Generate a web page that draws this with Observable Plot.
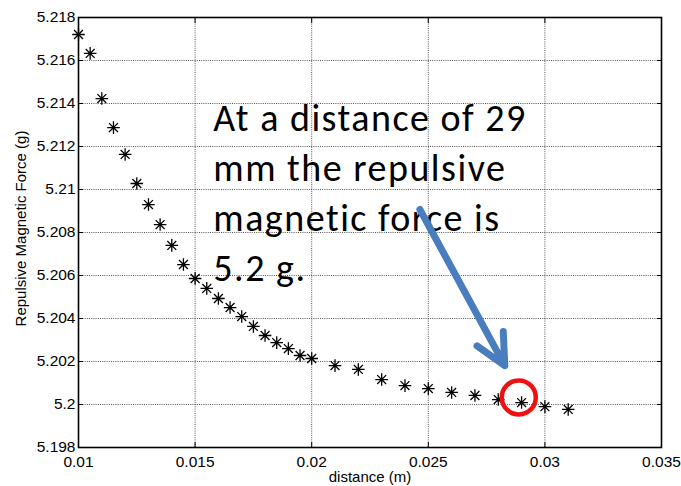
<!DOCTYPE html>
<html>
<head>
<meta charset="utf-8">
<script src="https://cdn.jsdelivr.net/npm/d3@7"></script>
<script src="https://cdn.jsdelivr.net/npm/@observablehq/plot@0.6"></script>
<style>
  html, body { margin: 0; padding: 0; background: #fff; }
  svg { display: block; }
</style>
</head>
<body>
<div id="chart"></div>
<script>
// ---- data ----
const distance = [0.010, 0.0105, 0.011, 0.0115, 0.012, 0.0125, 0.013, 0.0135, 0.014, 0.0145,
  0.015, 0.0155, 0.016, 0.0165, 0.017, 0.0175, 0.018, 0.0185, 0.019, 0.0195,
  0.020, 0.021, 0.022, 0.023, 0.024, 0.025, 0.026, 0.027, 0.028, 0.029, 0.030, 0.031];
const force = [5.21721, 5.21633, 5.21423, 5.21288, 5.21163, 5.21028, 5.2093, 5.20837, 5.2074, 5.20651,
  5.20586, 5.2054, 5.20493, 5.20451, 5.20409, 5.20363, 5.20321, 5.20288, 5.2026, 5.20228,
  5.20214, 5.20181, 5.20163, 5.20116, 5.20088, 5.20074, 5.20056, 5.20042, 5.20023, 5.20009, 5.1999, 5.19977];
const xTicks = [0.01, 0.015, 0.02, 0.025, 0.03, 0.035];
const yTicks = [5.198, 5.2, 5.202, 5.204, 5.206, 5.208, 5.21, 5.212, 5.214, 5.216, 5.218];
const xLabel = "distance (m)";
const yLabel = "Repulsive Magnetic Force (g)";
const noteLines = ["At a distance of 29", "mm the repulsive", "magnetic force is", "5.2 g."];
const noteAt = {x: 0.01578, y: 5.21439};
const arrowFrom = {x: 0.02464, y: 5.20907};
const arrowTo = {x: 0.02828, y: 5.20181};
const highlight = {x: 0.02888, y: 5.20033};

const points = distance.map((d, i) => ({d, f: force[i]}));

// MATLAB-style 8-armed asterisk
const asterisk = {
  draw(context, size) {
    const r = Math.sqrt(size / Math.PI);
    const k = r * Math.SQRT1_2;
    context.moveTo(-r, 0); context.lineTo(r, 0);
    context.moveTo(0, -r); context.lineTo(0, r);
    context.moveTo(-k, -k); context.lineTo(k, k);
    context.moveTo(-k, k); context.lineTo(k, -k);
  }
};

const tickFont = {fontSize: 15.5, fontFamily: "'Liberation Sans', Arial, sans-serif"};
const fmt = d => String(+d.toFixed(4));
const blank = () => "";

const chart = Plot.plot({
  width: 681,
  height: 486,
  marginLeft: 78,
  marginRight: 20,
  marginTop: 17,
  marginBottom: 39,
  style: {background: "#fff", color: "#000", fontFamily: "'Liberation Sans', Arial, sans-serif"},
  x: {domain: [0.01, 0.035]},
  y: {domain: [5.198, 5.218]},
  marks: [
    Plot.gridX(xTicks, {stroke: "#000", strokeOpacity: 0.75, strokeWidth: 0.9, strokeDasharray: "1,1.2"}),
    Plot.gridY(yTicks, {stroke: "#000", strokeOpacity: 0.75, strokeWidth: 0.9, strokeDasharray: "1,1.2"}),
    Plot.axisX(xTicks, {anchor: "bottom", tickSize: -5, tickPadding: 13, tickFormat: fmt, label: null, ...tickFont}),
    Plot.axisX(xTicks, {anchor: "top", tickSize: -5, tickFormat: blank, label: null}),
    Plot.axisY(yTicks, {anchor: "left", tickSize: -5, tickPadding: 8, tickFormat: fmt, label: null, ...tickFont}),
    Plot.axisY(yTicks, {anchor: "right", tickSize: -5, tickFormat: blank, label: null}),
    Plot.frame({stroke: "#000", strokeWidth: 1.6}),
    Plot.dot(points, {x: "d", y: "f", symbol: asterisk, r: 6.3, stroke: "#000", strokeWidth: 1.3, fill: "none"}),
    Plot.text([noteLines.join("\n")], {x: [noteAt.x], y: [noteAt.y], textAnchor: "start", lineAnchor: "top",
      lineHeight: 1.32, fontSize: 38, fontFamily: "Carlito, Lato, sans-serif", fill: "#000"}),
    Plot.arrow([0], {x1: [arrowFrom.x], y1: [arrowFrom.y], x2: [arrowTo.x], y2: [arrowTo.y],
      stroke: "#4a7dbd", strokeWidth: 7, headLength: 7.3, headAngle: 52, strokeLinecap: "round", strokeLinejoin: "round"}),
    Plot.dot([highlight], {x: "x", y: "y", r: 17, stroke: "#ee1111", strokeWidth: 4.5, fill: "none"}),
    Plot.text([xLabel], {frameAnchor: "bottom", dy: 30, textAnchor: "middle", lineAnchor: "middle", ...tickFont, fontSize: 15}),
    Plot.text([yLabel], {frameAnchor: "left", dx: -57, dy: -4, rotate: -90, textAnchor: "middle", lineAnchor: "middle", ...tickFont, fontSize: 15})
  ]
});
// widen the Calibri-like annotation text slightly
d3.select(chart).selectAll("text")
  .filter(function() { return this.textContent.startsWith("At a distance"); })
  .attr("letter-spacing", "1.5px");
document.getElementById("chart").appendChild(chart);
</script>
</body>
</html>
